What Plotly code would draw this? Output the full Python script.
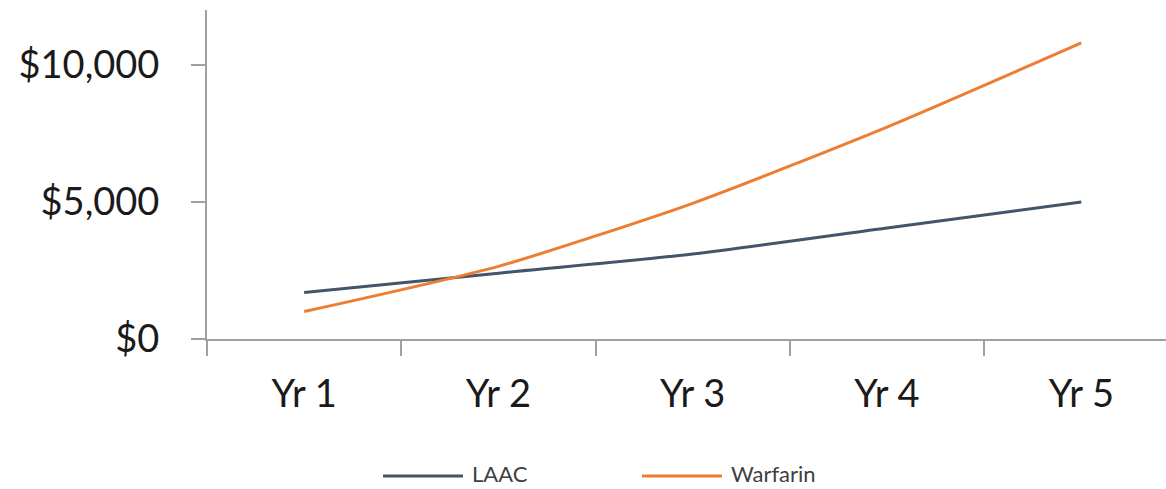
import plotly.graph_objects as go

# Cumulative cost by year for each strategy
years = ["Yr 1", "Yr 2", "Yr 3", "Yr 4", "Yr 5"]
laac_cost = [1700, 2400, 3100, 4050, 5000]
warfarin_cost = [1000, 2650, 4950, 7730, 10800]

series_names = ["LAAC", "Warfarin"]
series_colors = ["#44546A", "#ED7D31"]
y_ticks = [0, 5000, 10000]
y_tick_text = ["$0", "$5,000", "$10,000"]

FONT = "Lato, 'Open Sans', sans-serif"
AXIS_GREY = "#A0A0A0"

fig = go.Figure()
for name, values, color in zip(series_names, [laac_cost, warfarin_cost], series_colors):
    fig.add_trace(go.Scatter(
        x=years, y=values, name=name, mode="lines",
        line=dict(color=color, width=3, shape="spline", smoothing=0.6),
        showlegend=False,
    ))

# Legend below the plot: a long line sample followed by the series name
legend_x = [383, 642]
sample_y = (489 - 150 - 476) / 329
label_y = (489 - 150 - 473) / 329
for name, color, x0 in zip(series_names, series_colors, legend_x):
    fig.add_shape(type="line", xref="paper", yref="paper",
                  x0=(x0 - 207) / 959, x1=(x0 + 80 - 207) / 959,
                  y0=sample_y, y1=sample_y,
                  line=dict(color=color, width=3))
    fig.add_annotation(text=name, xref="paper", yref="paper",
                       x=(x0 + 87 - 207) / 959, y=label_y,
                       xanchor="left", yanchor="middle", showarrow=False,
                       font=dict(family=FONT, size=22, color="#404040"))

fig.update_layout(
    width=1166, height=489,
    margin=dict(l=207, r=0, t=10, b=150),
    paper_bgcolor="white", plot_bgcolor="white",
    font=dict(family=FONT, color="#1a1a1a"),
)
fig.update_xaxes(
    type="category", range=[-0.5, 4.436],
    showline=True, linecolor=AXIS_GREY, linewidth=2,
    ticks="outside", tickson="boundaries", ticklen=15,
    tickcolor=AXIS_GREY, tickwidth=2,
    showgrid=False, zeroline=False,
    tickfont=dict(family=FONT, size=38, color="#1a1a1a"),
    ticklabelstandoff=20,
)
fig.update_yaxes(
    range=[0, 12000],
    tickvals=y_ticks, ticktext=y_tick_text,
    showline=True, linecolor=AXIS_GREY, linewidth=2,
    ticks="outside", ticklen=14, tickcolor=AXIS_GREY, tickwidth=2,
    showgrid=False, zeroline=False,
    tickfont=dict(family=FONT, size=38, color="#1a1a1a"),
    ticklabelstandoff=24,
)

fig.write_html("out.html")
